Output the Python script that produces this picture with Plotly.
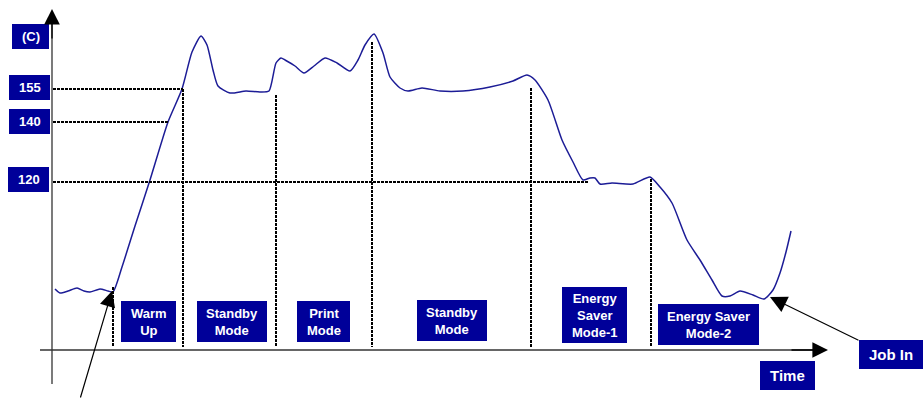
import plotly.graph_objects as go

# Schematic temperature curve (diagram coordinates: x = time position, y = screen-down temperature position)
curve_time = [55, 60, 68, 77, 84, 90, 100, 108, 113, 122, 135, 150, 168, 182, 192, 201, 207, 213, 218, 230,
              246, 260, 269, 276, 281, 285, 295, 304, 314, 325, 337, 350, 358, 365, 374, 383, 390, 400,
              408, 422, 440, 463, 490, 513, 527, 535, 548, 562, 573, 583, 590, 595, 600, 612, 633, 650, 660,
              672, 687, 700, 712, 722, 730, 740, 753, 764, 773, 780, 786, 791]
curve_temp = [289, 293, 291, 288, 291, 292, 289, 291, 292, 267, 226, 180, 122, 89, 52, 36, 45, 70, 86, 93,
              91, 92, 91, 63, 58, 60, 66, 73, 66, 58, 63, 71, 60, 45, 34, 53, 77, 88,
              91, 88, 91, 91, 87, 81, 75, 80, 100, 140, 162, 180, 178, 178, 184, 183, 184, 177, 187,
              203, 240, 260, 280, 296, 296, 291, 295, 299, 290, 273, 252, 231]

level_labels = ["155", "140", "120"]
level_pos = [89, 122, 182]
level_end = [183, 168, 588]

boundary_x = [113, 183, 276, 372, 531, 651]
boundary_top = [287, 89, 95, 42, 88, 179]

mode_labels = ["Warm<br>Up", "Standby<br>Mode", "Print<br>Mode", "Standby<br>Mode",
               "Energy<br>Saver<br>Mode-1", "Energy Saver<br>Mode-2"]
mode_boxes = [(121, 176, 301, 342), (197, 267, 301, 342), (297, 350, 301, 342),
              (417, 487, 300, 341), (562, 627, 287, 343), (658, 759, 304, 345)]
level_boxes = [(9, 50, 75, 100), (9, 50, 109, 134), (8, 49, 167, 192)]

NAVY = "#000099"
FONT = "Liberation Sans, Arial, sans-serif"

fig = go.Figure()
fig.add_trace(go.Scatter(x=curve_time, y=curve_temp, mode="lines",
                         line=dict(color="#1c1c96", width=1.5, shape="spline", smoothing=0.6),
                         hoverinfo="skip", showlegend=False))

shapes = []
annotations = []

DOT = dict(color="#000000", width=2, dash="3px,1px")
for lab, y, xe in zip(level_labels, level_pos, level_end):
    shapes.append(dict(type="line", x0=53, x1=xe, y0=y, y1=y, xref="x", yref="y", line=DOT))
for xb, yt in zip(boundary_x, boundary_top):
    shapes.append(dict(type="line", x0=xb, x1=xb, y0=yt, y1=347, xref="x", yref="y", line=DOT))

shapes.append(dict(type="line", x0=52, x1=52, y0=17, y1=384, line=dict(color="#333333", width=1.3)))
shapes.append(dict(type="line", x0=40, x1=814, y0=350, y1=350, line=dict(color="#333333", width=1.3)))

def box(b, text, size=12.5):
    x0, x1, y0, y1 = b
    shapes.append(dict(type="rect", x0=x0, x1=x1, y0=y0, y1=y1, fillcolor=NAVY,
                       line=dict(width=0), layer="above"))
    annotations.append(dict(x=(x0 + x1) / 2, y=(y0 + y1) / 2, text="<b>" + text + "</b>",
                            showarrow=False, xref="x", yref="y",
                            font=dict(family=FONT, size=size, color="white")))

for b, t in zip(mode_boxes, mode_labels):
    box(b, t, 13)
for b, t in zip(level_boxes, level_labels):
    box(b, t, 13)
box((12, 49, 24, 49), "(C)", 13)
box((760, 815, 361, 390), "Time", 15)
box((859, 923, 340, 369), "Job In", 15)

def arrow(x_tip, y_tip, x_tail, y_tail, size=2.2, width=1.3):
    annotations.append(dict(x=x_tip, y=y_tip, ax=x_tail, ay=y_tail, xref="x", yref="y",
                            axref="x", ayref="y", text="", showarrow=True, arrowhead=2,
                            arrowsize=size, arrowwidth=width, arrowcolor="black"))

arrow(52, 9, 52, 40, size=2.4, width=1.3)
arrow(828, 350, 790, 350, size=2.4, width=1.3)
arrow(112, 291, 80, 399, size=2.6, width=1.2)
arrow(770, 297, 860, 341, size=2.8, width=1.2)

fig.update_layout(
    width=923, height=403, margin=dict(l=0, r=0, t=0, b=0),
    paper_bgcolor="white", plot_bgcolor="white",
    xaxis=dict(range=[0, 923], visible=False, fixedrange=True),
    yaxis=dict(range=[403, 0], visible=False, fixedrange=True),
    shapes=shapes, annotations=annotations, showlegend=False,
)
fig.write_html("out.html", config={"displayModeBar": False},
               post_script="document.body.style.margin='0';document.body.style.overflow='hidden';")
